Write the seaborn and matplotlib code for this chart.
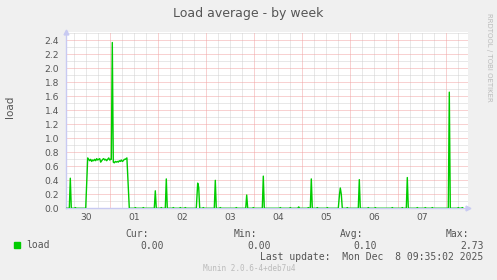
import matplotlib
matplotlib.use("Agg")
import matplotlib.pyplot as plt
import seaborn as sns
import pandas as pd

# ---- data (hours since Nov 30 00:00) ----
hours = [1.85, 3.5, 4.0, 4.5, 6.0, 6.5, 7.0,
         11.7, 12.7, 13.2, 13.7, 14.2, 14.7, 15.2, 15.7, 16.2, 16.7, 17.2, 17.7,
         18.2, 18.7, 19.2, 19.7, 20.2, 20.7, 21.2, 21.7, 22.2, 22.7, 23.2, 23.7,
         24.2, 24.5, 25.0, 25.5, 26.0, 26.5, 27.0, 27.5, 28.0, 28.5, 29.0, 29.5,
         30.0, 30.5, 31.0, 31.5, 32.3, 33.5,
         36.0, 36.5, 37.0, 40.0, 40.5, 41.0,
         46.0, 46.5, 47.0, 49.0, 49.5, 50.0,
         51.5, 52.0, 52.5, 55.0, 55.5, 56.0, 58.5, 59.0, 59.5, 61.0, 61.5, 62.0,
         67.0, 67.7, 68.2, 68.7, 70.0, 70.5, 71.0,
         76.0, 76.5, 77.0, 78.5, 79.0, 79.5, 86.5, 87.0, 87.5,
         91.7, 92.2, 92.7, 95.0, 95.5, 96.0,
         100.0, 100.5, 101.0, 108.5, 109.0, 109.5, 113.5, 114.0, 114.5,
         117.7, 118.2, 118.7, 122.5, 123.0, 123.5,
         124.0, 124.5, 125.0, 127.0, 127.5, 128.0, 132.0, 132.5, 133.0,
         138.0, 138.6, 139.0, 139.5, 140.0, 142.0, 142.5, 143.0,
         148.0, 148.5, 149.0, 152.5, 153.0, 153.5, 156.0, 156.5, 157.0,
         164.5, 165.0, 165.5, 169.5, 170.0, 170.5,
         172.0, 172.5, 173.0, 177.0, 177.5, 178.0, 181.0, 181.5, 182.0,
         184.5, 185.0, 185.5,
         193.0, 193.5, 194.0, 197.5, 198.0, 198.5, 199.5, 200.0, 200.5]
load = [0.0, 0.0, 0.43, 0.0, 0.0, 0.01, 0.0,
        0.0, 0.72, 0.70, 0.68, 0.70, 0.67, 0.69, 0.68, 0.70, 0.68, 0.71, 0.69,
        0.70, 0.71, 0.66, 0.68, 0.70, 0.71, 0.69, 0.70, 0.68, 0.70, 0.72, 0.69,
        0.70, 0.70, 2.37, 0.66, 0.65, 0.67, 0.66, 0.67, 0.66, 0.68, 0.67, 0.69,
        0.67, 0.68, 0.70, 0.70, 0.72, 0.0,
        0.0, 0.01, 0.0, 0.0, 0.01, 0.0,
        0.0, 0.25, 0.0, 0.0, 0.01, 0.0,
        0.0, 0.42, 0.0, 0.0, 0.01, 0.0, 0.0, 0.01, 0.0, 0.0, 0.01, 0.0,
        0.0, 0.36, 0.30, 0.0, 0.0, 0.01, 0.0,
        0.0, 0.40, 0.0, 0.0, 0.01, 0.0, 0.0, 0.01, 0.0,
        0.0, 0.19, 0.0, 0.0, 0.01, 0.0,
        0.0, 0.46, 0.0, 0.0, 0.01, 0.0, 0.0, 0.01, 0.0,
        0.0, 0.02, 0.0, 0.0, 0.01, 0.0,
        0.0, 0.42, 0.0, 0.0, 0.01, 0.0, 0.0, 0.01, 0.0,
        0.0, 0.20, 0.29, 0.20, 0.0, 0.0, 0.01, 0.0,
        0.0, 0.41, 0.0, 0.0, 0.01, 0.0, 0.0, 0.01, 0.0,
        0.0, 0.01, 0.0, 0.0, 0.01, 0.0,
        0.0, 0.44, 0.0, 0.0, 0.01, 0.0, 0.0, 0.01, 0.0,
        0.0, 0.01, 0.0,
        0.0, 1.66, 0.0, 0.0, 0.01, 0.0, 0.0, 0.01, 0.0]
day_labels = ["30", "01", "02", "03", "04", "05", "06", "07"]
y_ticks = [0.0, 0.2, 0.4, 0.6, 0.8, 1.0, 1.2, 1.4, 1.6, 1.8, 2.0, 2.2, 2.4]
y_minor = [0.1, 0.3, 0.5, 0.7, 0.9, 1.1, 1.3, 1.5, 1.7, 1.9, 2.1, 2.3, 2.5]
stat_names = ["Cur:", "Min:", "Avg:", "Max:"]
stat_values = ["0.00", "0.00", "0.10", "2.73"]
series_name = "load"

df = pd.DataFrame({"hours": hours, "load": load})

sns.set_theme(style="white")
plt.rcParams["font.family"] = ["DejaVu Sans"]

W, H = 497, 280
fig = plt.figure(figsize=(W / 100, H / 100), dpi=100, facecolor="#F0F0F0")
L, R, T, B = 66, 468, 32, 208.3
ax = fig.add_axes([L / W, 1 - B / H, (R - L) / W, (B - T) / H])
ax.set_facecolor("white")

xmin, xmax = 1.85, 202.85
ymax = 2.52
ax.set_xlim(xmin, xmax)
ax.set_ylim(0, ymax)

minor_col = "#D2D2D2"
major_col = "#F2A4A4"
dot = (0, (1, 1))
gkw = dict(lw=0.72, ls=dot)
# vertical grid: every 6h gray, midnights red
for k in range(0, 35):
    hx = 6 * k
    if xmin < hx < xmax and hx % 24 != 0:
        ax.axvline(hx, color=minor_col, zorder=1, **gkw)
for d in range(0, 9):
    hx = 24 * d
    if xmin < hx < xmax:
        ax.axvline(hx, color=major_col, zorder=1.5, **gkw)
for v in y_minor:
    if v < ymax:
        ax.axhline(v, color=minor_col, zorder=1, **gkw)
for v in y_ticks[1:]:
    ax.axhline(v, color=major_col, zorder=1.5, **gkw)

sns.lineplot(data=df, x="hours", y="load", ax=ax, color="#00CC00",
             lw=1.0, zorder=3, legend=False, estimator=None, sort=False)

ax.set_xticks([24 * i + 12 for i in range(len(day_labels))])
ax.set_xticklabels(day_labels)
ax.set_yticks(y_ticks)
ax.set_yticklabels([f"{v:.1f}" for v in y_ticks])
ax.tick_params(axis="both", length=0, labelsize=6.6, colors="#555555")
ax.tick_params(axis="x", pad=3.5)
ax.tick_params(axis="y", pad=5)
ax.set_xlabel("")
ax.set_ylabel("")

for s in ["top", "right"]:
    ax.spines[s].set_visible(False)
axis_col = "#C8CAF2"
ax.spines["left"].set_color(axis_col)
ax.spines["bottom"].set_color(axis_col)
ax.spines["left"].set_linewidth(1.0)
ax.spines["bottom"].set_linewidth(1.0)
# arrows
ax.plot([0], [1.0], marker="^", transform=ax.transAxes, color=axis_col,
        markersize=3.5, clip_on=False, zorder=5)
ax.plot([1.0], [0], marker=">", transform=ax.transAxes, color=axis_col,
        markersize=3.5, clip_on=False, zorder=5)

def fx(x):
    return x / W

def fy(y):
    return 1 - y / H

txt = "#555555"
fig.text(fx(248), fy(13), "Load average - by week", ha="center", va="center",
         fontsize=9, color=txt)
fig.text(fx(10), fy(107), series_name, ha="center", va="center", rotation=90,
         fontsize=7.5, color=txt)
fig.text(fx(488.5), fy(57), "RRDTOOL / TOBI OETIKER", ha="center", va="center",
         rotation=270, fontsize=5, color="#BBBBBB")

mono = "DejaVu Sans Mono"
fs = 7
fig.patches.append(plt.Rectangle((fx(14), fy(248.3)), 6 / W, 6 / H,
                                 transform=fig.transFigure, color="#00CC00"))
fig.text(fx(26), fy(245.5), series_name, ha="left", va="center",
         family=mono, fontsize=fs, color=txt)
name_x = [149, 257, 363, 469.5]
val_x = [163.5, 270.5, 376.5, 483.5]
for n, v, nx, vx in zip(stat_names, stat_values, name_x, val_x):
    fig.text(fx(nx), fy(234), n, ha="right", va="center", family=mono,
             fontsize=fs, color=txt)
    fig.text(fx(vx), fy(245.7), v, ha="right", va="center", family=mono,
             fontsize=fs, color=txt)
fig.text(fx(483.5), fy(257.3), "Last update:  Mon Dec  8 09:35:02 2025",
         ha="right", va="center", family=mono, fontsize=fs, color=txt)
fig.text(fx(249), fy(268.3), "Munin 2.0.6-4+deb7u4", ha="center", va="center",
         family=mono, fontsize=5.5, color="#BBBBBB")

fig.savefig("out.png", dpi=100, facecolor=fig.get_facecolor())
